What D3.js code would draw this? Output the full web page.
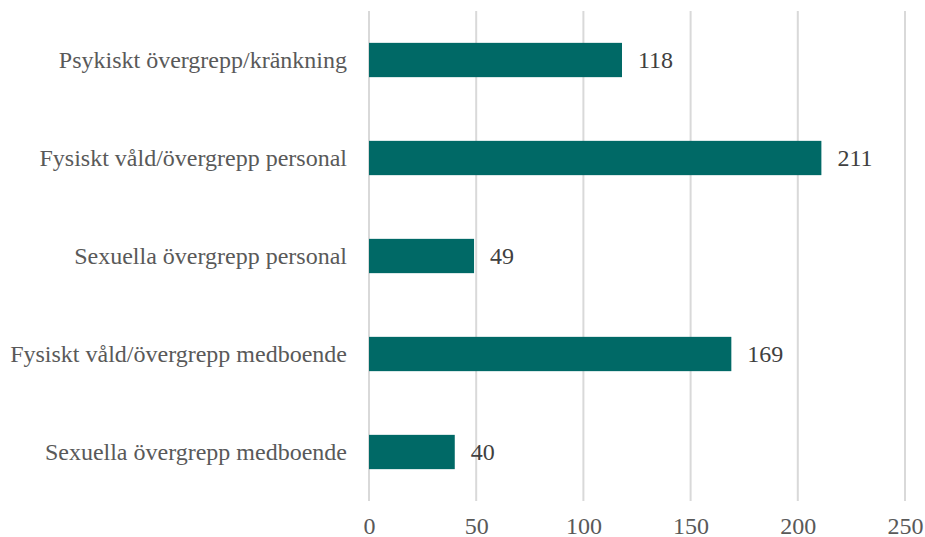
<!DOCTYPE html>
<html>
<head>
<meta charset="utf-8">
<script src="https://cdn.jsdelivr.net/npm/d3@7"></script>
<style>
  html, body { margin: 0; padding: 0; background: #ffffff; }
  svg { display: block; }
</style>
</head>
<body>
<svg id="chart" width="925" height="537"></svg>
<script>
// Anmälningar per kategori
const categories = [
  "Psykiskt övergrepp/kränkning",
  "Fysiskt våld/övergrepp personal",
  "Sexuella övergrepp personal",
  "Fysiskt våld/övergrepp medboende",
  "Sexuella övergrepp medboende"
];
const values = [118, 211, 49, 169, 40];
const xTicks = [0, 50, 100, 150, 200, 250];

const svg = d3.select("#chart");
const margin = { top: 11, left: 369 };
const plotW = 536, plotH = 490;

const font = "'Liberation Serif', 'Times New Roman', serif";
const fs = 24;

const x = d3.scaleLinear().domain([0, 250]).range([0, plotW]);
const y = d3.scaleBand().domain(categories).range([0, plotH]).paddingInner(0.65).paddingOuter(0.325);

const g = svg.append("g").attr("transform", `translate(${margin.left},${margin.top})`);

// vertical gridlines
g.selectAll("line.grid")
  .data(xTicks)
  .join("line")
  .attr("class", "grid")
  .attr("x1", d => x(d)).attr("x2", d => x(d))
  .attr("y1", 0).attr("y2", plotH)
  .attr("stroke", "#d9d9d9")
  .attr("stroke-width", 2);

// x axis labels
const xAxis = d3.axisBottom(x).tickValues(xTicks).tickSize(0).tickPadding(0);
const xa = g.append("g").attr("transform", `translate(0,${plotH})`).call(xAxis);
xa.select(".domain").remove();
xa.selectAll("text")
  .attr("dy", null)
  .attr("y", 33)
  .attr("font-family", font)
  .attr("font-size", fs)
  .attr("fill", "#595959");

// category labels
const yAxis = d3.axisLeft(y).tickSize(0).tickPadding(22);
const ya = g.append("g").call(yAxis);
ya.select(".domain").remove();
ya.selectAll("text")
  .attr("font-family", font)
  .attr("font-size", fs)
  .attr("fill", "#595959");

// bars
g.selectAll("rect.bar")
  .data(values)
  .join("rect")
  .attr("class", "bar")
  .attr("x", x(0))
  .attr("y", (d, i) => y(categories[i]))
  .attr("width", d => x(d) - x(0))
  .attr("height", y.bandwidth())
  .attr("fill", "#006966");

// value labels
g.selectAll("text.val")
  .data(values)
  .join("text")
  .attr("class", "val")
  .attr("x", d => x(d) + 16)
  .attr("y", (d, i) => y(categories[i]) + y.bandwidth() / 2)
  .attr("dy", "0.35em")
  .attr("font-family", font)
  .attr("font-size", fs)
  .attr("fill", "#404040")
  .text(d => d);
</script>
</body>
</html>
